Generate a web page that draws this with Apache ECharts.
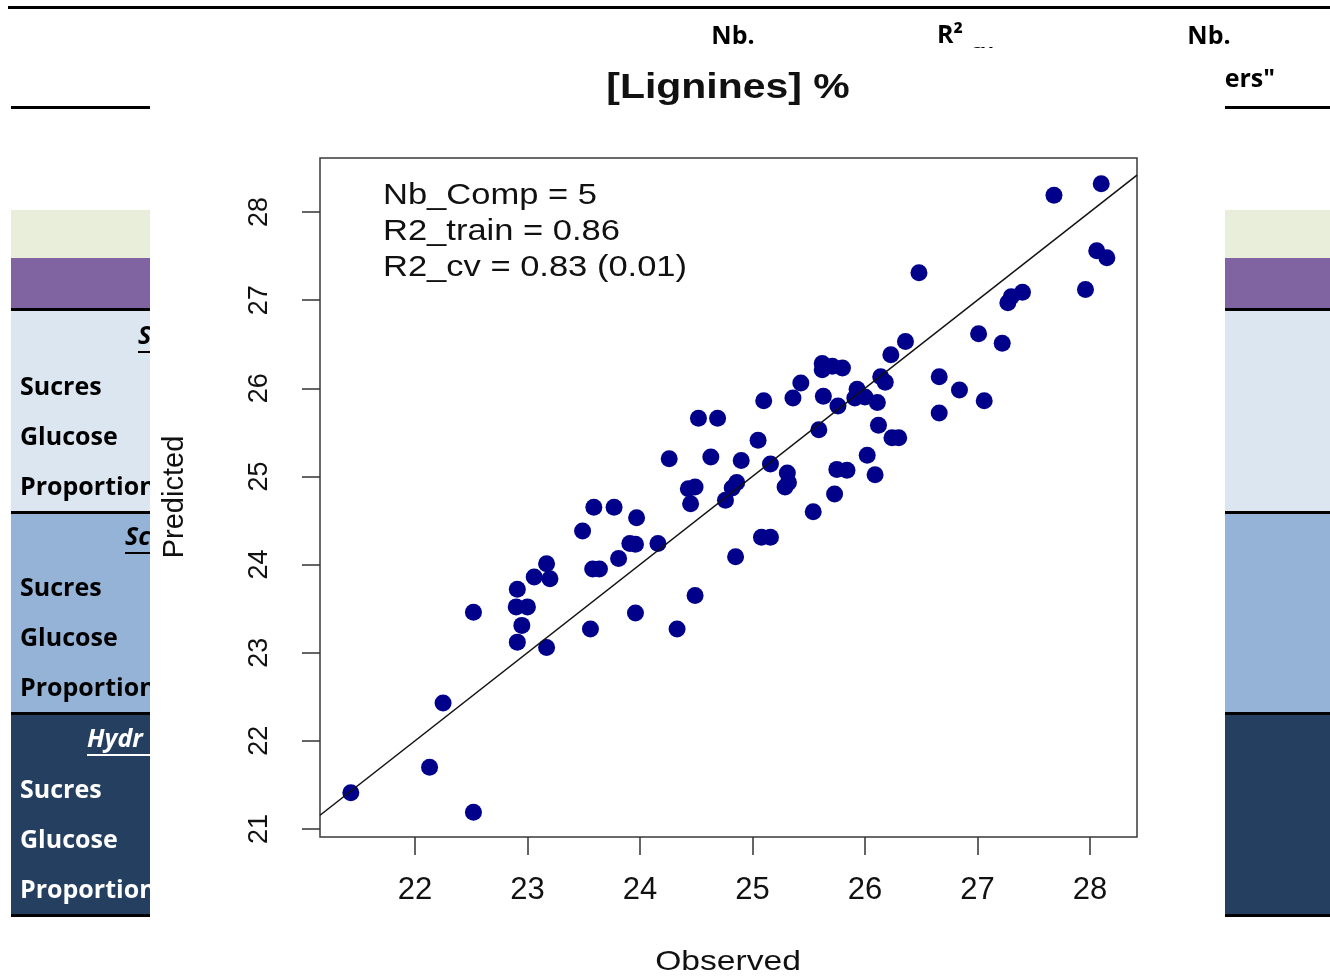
<!DOCTYPE html>
<html><head><meta charset="utf-8">
<script src="https://cdn.jsdelivr.net/npm/echarts@6/dist/echarts.min.js"></script>
<style>html,body{margin:0;padding:0;background:#fff}#c{width:1330px;height:978px}</style>
</head><body><div id="c"></div>
<script>
// ---- data ----
const observed = [21.43,22.13,22.25,22.52,22.52,22.91,22.90,23.00,22.95,22.91,
  23.17,23.06,23.17,23.20,23.49,23.59,23.58,23.64,23.56,23.77,
  23.81,23.91,23.96,23.97,23.96,24.16,24.26,24.33,24.43,24.49,
  24.45,24.49,24.52,24.63,24.69,24.76,24.82,24.86,24.85,24.90,
  25.05,25.10,25.08,25.16,25.16,25.31,25.29,25.32,25.36,25.43,
  25.54,25.59,25.62,25.62,25.71,25.80,25.63,25.76,25.73,25.75,
  25.84,25.93,25.91,26.00,26.02,26.09,26.11,26.12,26.14,26.18,
  26.23,26.24,26.30,26.36,26.48,26.66,26.66,26.84,27.01,27.06,
  27.22,27.27,27.30,27.40,27.68,27.96,28.06,28.10,28.15];
const predicted = [21.41,21.70,22.43,21.19,23.46,23.72,23.52,23.52,23.31,23.12,
  23.06,23.86,24.01,23.84,24.38,24.65,23.95,23.95,23.27,24.65,
  24.07,24.24,24.23,24.53,23.45,24.24,25.20,23.27,24.86,24.88,
  24.69,23.65,25.66,25.22,25.66,24.73,24.87,24.93,24.09,25.18,
  25.41,25.86,24.31,24.31,25.14,25.04,24.88,24.93,25.89,26.06,
  24.60,25.53,26.28,26.21,26.25,26.23,25.91,25.80,24.80,25.08,
  25.07,25.99,25.89,25.90,25.24,25.02,25.84,25.58,26.13,26.07,
  26.38,25.44,25.44,26.53,27.31,26.13,25.72,25.98,26.62,25.86,
  26.51,26.97,27.04,27.09,28.19,27.12,27.56,28.32,27.48];
const xTicks = [22,23,24,25,26,27,28];
const yTicks = [21,22,23,24,25,26,27,28];
const xRange = [21.156, 28.418];
const yRange = [20.909, 28.613];
const titleText = '[Lignines] %';
const statLines = ['Nb_Comp = 5', 'R2_train = 0.86', 'R2_cv = 0.83 (0.01)'];
const xName = 'Observed';
const yName = 'Predicted';
const rowLabels = ['Sucres', 'Glucose', 'Proportion'];
const sectionHeads = ['S', 'Sc', 'Hydr'];
const headerCells = ['Nb.', 'R²', 'cv', 'Nb.', '"outliers"'];

// ---- background slide table (decoration) ----
const G = [];
function rect(x, y, w, h, fill, z) { G.push({type:'rect', z: z||0, shape:{x, y, width:w, height:h}, style:{fill}, silent:true}); }
function txt(s, x, y, o) {
  o = o || {};
  G.push({type:'text', z: o.z||0, x, y, rotation: o.rot||0, scaleX: o.sx||1, silent:true,
    style:{text:s, x:0, y:0, fill:o.fill||'#000', font:o.font, textAlign:o.align||'left',
      textVerticalAlign:'middle', verticalAlign:'middle'}});
}
const sides = [[11,139],[1225,105]];
rect(8, 6, 1322, 3, '#000');
rect(11, 106, 139, 3, '#000');
rect(1225, 106, 105, 3, '#000');
const bands = [[210,48,'#e8eeda'],[258,50,'#8064a2'],[308,3,'#000'],[311,200,'#dce6f1'],[511,3,'#000'],
  [514,198,'#95b3d7'],[712,3,'#000'],[715,199,'#243f60'],[914,3,'#000']];
sides.forEach(([sx, sw]) => bands.forEach(([y,h,c]) => rect(sx, y, sw, h, c)));
const tFont = 'bold 25px "Open Sans", Lato, sans-serif';
const secTop = [337, 538, 740];
const secColor = ['#000', '#000', '#fff'];
const secX = [138, 125, 87];
sectionHeads.forEach((s, i) => {
  txt(s, secX[i], secTop[i], {font:'italic bold 25px "Open Sans", sans-serif', fill:secColor[i]});
  rect(secX[i], secTop[i] + 14, 150 - secX[i], 2, secColor[i]);
  rowLabels.forEach((r, j) => txt(r, 20, secTop[i] + 50 * (j + 1) + 1, {font:tFont, fill:secColor[i]}));
});
txt(headerCells[0], 733, 37, {font:tFont, align:'center'});
txt(headerCells[1], 937, 36, {font:tFont});
txt(headerCells[2], 971, 52, {font:'bold 20px "Open Sans", sans-serif'});
txt(headerCells[3], 1209, 37, {font:tFont, align:'center'});
txt(headerCells[4], 1275, 80, {font:tFont, align:'right'});
// white picture panel
rect(150, 48, 1075, 930, '#fff', 1);
// chart texts
const cf = '"Liberation Sans", Arial, sans-serif';
txt(titleText, 728, 88, {font:'bold 35px ' + cf, align:'center', sx:1.17, z:10, fill:'#111'});
statLines.forEach((s, i) => txt(s, 383, 196 + 36 * i, {font:'29px ' + cf, sx:1.19, z:10, fill:'#111'}));
txt(xName, 728, 962, {font:'28px ' + cf, align:'center', sx:1.2, z:10, fill:'#111'});
txt(yName, 175, 497, {font:'29px ' + cf, align:'center', rot:Math.PI/2, z:10, fill:'#111'});

const chart = echarts.init(document.getElementById('c'), null, {renderer:'canvas'});
const axisCommon = {
  type:'value', z:5,
  axisLine:{show:false},
  splitLine:{show:false},
  axisTick:{show:true, inside:false, length:18, lineStyle:{color:'#333', width:1.5}},
};
chart.setOption({
  animation:false,
  backgroundColor:'#fff',
  graphic: G,
  grid:{left:320, top:158, width:817, height:679, show:true, borderColor:'#3a3a3a', borderWidth:1.5,
    backgroundColor:'transparent', z:5},
  xAxis: Object.assign({}, axisCommon, {min:xRange[0], max:xRange[1],
    axisTick: Object.assign({}, axisCommon.axisTick, {customValues:xTicks}),
    axisLabel:{customValues:xTicks, fontSize:31, fontFamily:cf, color:'#111', margin:38}}),
  yAxis: Object.assign({}, axisCommon, {min:yRange[0], max:yRange[1],
    axisTick: Object.assign({}, axisCommon.axisTick, {customValues:yTicks}),
    axisLabel:{customValues:yTicks, fontSize:27, fontFamily:cf, color:'#111', rotate:90, margin:47}}),
  series:[
    {type:'scatter', z:10, symbol:'circle', symbolSize:17, itemStyle:{color:'#00008b', opacity:1},
      data: observed.map((v, i) => [v, predicted[i]])},
    {type:'line', z:11, symbol:'none', silent:true, lineStyle:{color:'#111', width:1.5},
      data:[[xRange[0], xRange[0]], [xRange[1], xRange[1]]]}
  ]
});
</script></body></html>
